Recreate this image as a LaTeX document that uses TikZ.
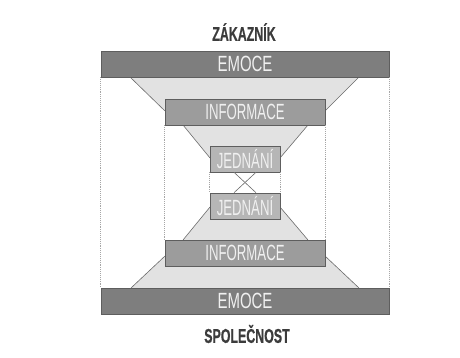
\documentclass[tikz,border=0pt]{standalone}
\usepackage{fontspec}
\newfontfamily\condfont[FakeStretch=0.68]{Liberation Sans}
\newfontfamily\narrowfont[FakeStretch=0.6]{Liberation Sans}
\newfontfamily\headfont[FakeStretch=0.62, FakeBold=0.6]{Liberation Sans Bold}
\usepackage{tikz}
\usetikzlibrary{calc}
\definecolor{emogray}{HTML}{7E7E7E}
\definecolor{infgray}{HTML}{9C9C9C}
\definecolor{jedgray}{HTML}{B6B6B6}
\definecolor{trapgray}{HTML}{E2E2E2}
\definecolor{edgegray}{HTML}{5E5E5E}
\definecolor{titlegray}{HTML}{3C3C3C}

\begin{document}
\begin{tikzpicture}[x=1pt, y=-1pt,
  bar/.style={draw=edgegray, line width=0.6pt, minimum height=26pt,
    inner sep=0pt, text=gray!12, font=\narrowfont\fontsize{22}{22}\selectfont},
  trap/.style={fill=trapgray, draw=gray!85!black, line width=0.6pt},
  guide/.style={densely dotted, draw=gray!70, line width=0.9pt},
  title/.style={text=titlegray, font=\headfont\fontsize{20}{20}\selectfont}]
  \useasboundingbox (0,0) rectangle (460,358);
  % anchors of the hourglass
  \coordinate (emo1S) at (245,77);
  \coordinate (emo2N) at (245,288);
  % shaded funnels
  \fill[trapgray] ($(emo1S)+(-115,0)$) -- ($(emo1S)+(114,0)$)
    -- (325,111) -- (165,111) -- cycle;
  \draw[trap, fill=none] ($(emo1S)+(-115,0)$) -- (165,111);
  \draw[trap, fill=none] ($(emo1S)+(114,0)$) -- (325,111);
  \fill[trapgray] ($(emo2N)+(-114,0)$) -- ($(emo2N)+(114,0)$)
    -- (325,256) -- (165,256) -- cycle;
  \draw[trap, fill=none] ($(emo2N)+(-114,0)$) -- (165,256);
  \draw[trap, fill=none] ($(emo2N)+(114,0)$) -- (325,256);
  \fill[trapgray] (183,125) -- (308,125) -- (280,158) -- (210,158) -- cycle;
  \draw[trap, fill=none] (183,125) -- (210,158);
  \draw[trap, fill=none] (308,125) -- (280,158);
  \fill[trapgray] (210,207) -- (280,207) -- (308,240) -- (183,240) -- cycle;
  \draw[trap, fill=none] (210,207) -- (183,240);
  \draw[trap, fill=none] (280,207) -- (308,240);
  % boxes
  \node[bar, fill=emogray, minimum width=288pt, font=\condfont\fontsize{22}{22}\selectfont]
    (emo1) at (245,64) {EMOCE};
  \node[bar, fill=infgray, minimum width=160pt] (inf1) at (245,112) {INFORMACE};
  \node[bar, fill=jedgray, minimum width=70pt] (jed1) at (245,159) {JEDNÁNÍ};
  \node[bar, fill=jedgray, minimum width=70pt] (jed2) at (245,206) {JEDNÁNÍ};
  \node[bar, fill=infgray, minimum width=160pt] (inf2) at (245,253) {INFORMACE};
  \node[bar, fill=emogray, minimum width=288pt, font=\condfont\fontsize{22}{22}\selectfont]
    (emo2) at (245,301) {EMOCE};
  % dotted frames
  \draw[guide] (emo1.south west) -- (emo2.north west);
  \draw[guide] (emo1.south east) -- (emo2.north east);
  \draw[guide] (inf1.south west) -- (inf2.north west);
  \draw[guide] (inf1.south east) -- (inf2.north east);
  \draw[guide] (jed1.south west) -- (jed2.north west);
  \draw[guide] (jed1.south east) -- (jed2.north east);
  % crossing
  \draw[trap] ([xshift=-11pt]jed1.south) -- ([xshift=11pt]jed2.north);
  \draw[trap] ([xshift=11pt]jed1.south) -- ([xshift=-11pt]jed2.north);
  % titles
  \node[title] (cust) at (244,32) {ZÁKAZNÍK};
  \node[title] (firm) at (247,334) {SPOLEČNOST};
\end{tikzpicture}
\end{document}
